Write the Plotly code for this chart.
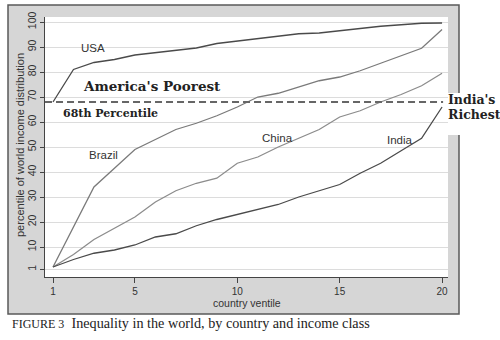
import plotly.graph_objects as go

# Country ventile (1 = poorest 5%, 20 = richest 5%)
ventiles = list(range(1, 21))

# Percentile of the world income distribution reached by each ventile
usa = [68, 81, 83.8, 85, 86.8, 87.8, 88.6, 89.6, 91.4, 92.4,
       93.4, 94.5, 95.3, 95.6, 96.5, 97.5, 98.3, 98.9, 99.5, 99.6]
brazil = [2, 18, 34, 41.5, 49, 53, 57, 59.5, 62.5, 66,
          70, 71.5, 74, 76.5, 78, 80.5, 83.5, 86.5, 89.5, 97]
china = [2, 7, 13, 17.5, 22, 28, 32.5, 35.5, 37.5, 43.5,
         46, 50, 53.5, 57, 62, 64.5, 68, 71, 74.5, 79.5]
india = [2, 5, 7.5, 8.8, 10.8, 14, 15.3, 18.5, 21, 23,
         25, 27, 30, 32.5, 35, 39.5, 43.5, 48.5, 53.5, 66]

series_names = ["USA", "Brazil", "China", "India"]
series_values = [usa, brazil, china, india]
series_colors = ["#4a4a4a", "#7a7a7a", "#8c8c8c", "#4a4a4a"]
# where each country's name is written, in data coordinates
label_pos = {"USA": (2.97, 89.5), "Brazil": (3.46, 46.8),
             "China": (11.94, 53.5), "India": (17.95, 52.8)}

x_ticks = [1, 5, 10, 15, 20]
y_ticks = [1, 10, 20, 30, 40, 50, 60, 70, 80, 90, 100]
threshold = 68

fig = go.Figure()
for name, vals, col in zip(series_names, series_values, series_colors):
    fig.add_trace(go.Scatter(x=ventiles, y=vals, mode="lines", name=name,
                             line=dict(color=col, width=1.3),
                             showlegend=False, hoverinfo="skip"))

# plot-area geometry in pixels, used to place paper-referenced items
L, R, T, B = 45, 448, 17, 277
W, H = R - L, B - T
FRAME = "#d6d6d6"


def px(xp):
    return (xp - L) / W


def py(yp):
    return (B - yp) / H


shapes = [
    # white page outside the grey graph frame (right and bottom strips)
    dict(type="rect", xref="paper", yref="paper",
         x0=px(459), x1=px(505), y0=py(345), y1=py(-5),
         fillcolor="white", line=dict(width=0), layer="below"),
    dict(type="rect", xref="paper", yref="paper",
         x0=px(-5), x1=px(505), y0=py(345), y1=py(314),
         fillcolor="white", line=dict(width=0), layer="below"),
    dict(type="rect", xref="paper", yref="paper",
         x0=px(-5), x1=px(8), y0=py(345), y1=py(-5),
         fillcolor="white", line=dict(width=0), layer="below"),
    dict(type="rect", xref="paper", yref="paper",
         x0=px(-5), x1=px(505), y0=py(5), y1=py(-5),
         fillcolor="white", line=dict(width=0), layer="below"),
    # outline of the graph frame
    dict(type="rect", xref="paper", yref="paper",
         x0=px(8), x1=px(459), y0=py(314), y1=py(5),
         fillcolor="rgba(0,0,0,0)", line=dict(color="#5a5a5a", width=1.5),
         layer="below"),
    # white patch behind the right-hand note
    dict(type="rect", xref="paper", yref="paper",
         x0=px(444), x1=px(500), y0=py(135), y1=py(93),
         fillcolor="white", line=dict(width=0), layer="below"),
    # 68th percentile threshold
    dict(type="line", xref="x", yref="y", x0=0.61, x1=20.05,
         y0=threshold, y1=threshold,
         line=dict(color="#666666", width=2, dash="7px,4px"), layer="above"),
]

sans = "Liberation Sans, Arial, sans-serif"
serif_bold = "DejaVu Serif, serif"
annotations = []
for name in series_names:
    lx, ly = label_pos[name]
    annotations.append(dict(x=lx, y=ly, xref="x", yref="y", text=name,
                            showarrow=False, xanchor="center",
                            yanchor="middle",
                            font=dict(family=sans, size=11.5, color="#333")))


def note(xp, yp, text, size, family, anchor="center", angle=0, color="#222"):
    return dict(x=px(xp), y=py(yp), xref="paper", yref="paper",
                xanchor=anchor, yanchor="middle", textangle=angle,
                text=text, showarrow=False,
                font=dict(family=family, size=size, color=color))


annotations += [
    note(152, 86, "<b>America's Poorest</b>", 13.5, serif_bold),
    note(110, 113, "<b>68th Percentile</b>", 11, serif_bold),
    note(446, 99, "<b>India's</b>", 12.5, serif_bold, anchor="left"),
    note(446, 114, "<b>Richest</b>", 12.5, serif_bold, anchor="left"),
    # axis titles
    note(247, 302.5, "country ventile", 10.5, sans, color="#333"),
    note(20, 145, "percentile of world income distribution", 11, sans,
         angle=-90, color="#333"),
    # figure caption
    note(10, 323, "<span style='font-size:12px'>FIGURE 3</span>  "
                  "Inequality in the world, by country and income class",
         14.2, "Liberation Serif, serif", anchor="left"),
]

fig.update_layout(
    width=500, height=340,
    margin=dict(l=L, r=500 - R, t=T, b=340 - B, pad=0),
    paper_bgcolor=FRAME, plot_bgcolor="white",
    shapes=shapes, annotations=annotations,
    xaxis=dict(range=[0.609, 20.29], tickvals=x_ticks,
               ticktext=[str(v) for v in x_ticks],
               ticks="outside", ticklen=5, tickcolor="#444",
               showline=True, linecolor="#444", linewidth=1,
               showgrid=False, zeroline=False,
               tickfont=dict(family=sans, size=10, color="#333")),
    yaxis=dict(range=[-2, 102], tickvals=y_ticks,
               ticktext=[str(v) for v in y_ticks], tickangle=-90,
               ticks="outside", ticklen=4, tickcolor="#444",
               showline=True, linecolor="#444", linewidth=1,
               showgrid=True, gridcolor="#dcdcdc", gridwidth=1,
               zeroline=False,
               tickfont=dict(family=sans, size=10.5, color="#333")),
)

fig.write_html("out.html")
